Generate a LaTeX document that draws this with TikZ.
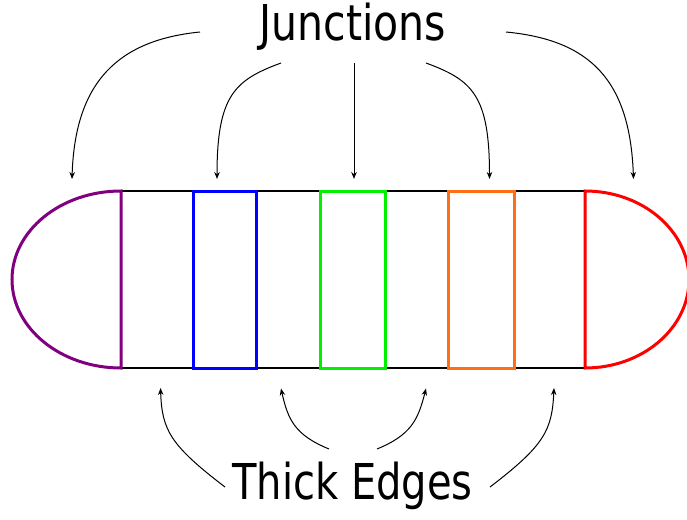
\documentclass[tikz,border=0pt]{standalone}
\usepackage{fontspec}
\setmainfont{DejaVu Sans}
\usetikzlibrary{arrows.meta}
\definecolor{cPurple}{RGB}{128,0,128}
\definecolor{cBlue}{RGB}{0,0,255}
\definecolor{cGreen}{RGB}{0,240,0}
\definecolor{cOrange}{RGB}{255,110,20}
\definecolor{cRed}{RGB}{255,0,0}
\begin{document}
\begin{tikzpicture}[x=1pt,y=-1pt,
  edgeline/.style={line width=1.8pt,black},
  junc/.style={line width=3pt},
  pointer/.style={line width=1pt,-{Stealth[length=7pt,width=5.5pt]}},
  label/.style={inner sep=0pt,anchor=base,font=\fontsize{49.4}{52}\selectfont}]
\useasboundingbox (0,0) rectangle (687,519);
\clip (0,0) rectangle (687,519);
% black edges
\draw[edgeline] (121,191) -- (585,191);
\draw[edgeline] (121,368) -- (585,368);
% end caps
\draw[junc,cPurple] (121,191) arc[start angle=-90,end angle=-270,x radius=109,y radius=88.5] -- cycle;
\draw[junc,cRed] (585,191) arc[start angle=-90,end angle=90,x radius=104,y radius=88.5] -- cycle;
% junction rectangles
\draw[junc,cBlue] (193,191) rectangle (256,368);
\draw[junc,cGreen] (320,191) rectangle (385,368);
\draw[junc,cOrange] (448,191) rectangle (514,368);
% labels
\node[label] (J) at (353,40.7) {\scalebox{0.83}[1]{Junctions}};
\node[label] (T) at (352.5,499.3) {\scalebox{0.81}[1]{Thick Edges}};
% pointer ends
\coordinate (j1s) at (200,32);  \coordinate (j1e) at (72,179);
\coordinate (j2s) at (281,63);  \coordinate (j2e) at (217,179);
\coordinate (j3s) at (354,63);  \coordinate (j3e) at (354,179);
\coordinate (j4s) at (426,63);  \coordinate (j4e) at (489.5,179);
\coordinate (j5s) at (506,32);  \coordinate (j5e) at (633.5,179);
\coordinate (t1s) at (225,487); \coordinate (t1e) at (160.5,388);
\coordinate (t2s) at (329,449); \coordinate (t2e) at (281,388.5);
\coordinate (t3s) at (377,449); \coordinate (t3e) at (426,388.5);
\coordinate (t4s) at (490,487); \coordinate (t4e) at (554,388);
% junction pointers
\draw[pointer] (j1s) .. controls (120,40) and (75,80) .. (j1e);
\draw[pointer] (j2s) .. controls (235,80) and (217,95) .. (j2e);
\draw[pointer] (j3s) -- (j3e);
\draw[pointer] (j4s) .. controls (472,80) and (489.5,95) .. (j4e);
\draw[pointer] (j5s) .. controls (590,40) and (630,80) .. (j5e);
% thick edge pointers
\draw[pointer] (t1s) .. controls (170,445) and (162,430) .. (t1e);
\draw[pointer] (t2s) .. controls (295,435) and (288,420) .. (t2e);
\draw[pointer] (t3s) .. controls (411,435) and (418,420) .. (t3e);
\draw[pointer] (t4s) .. controls (545,445) and (552,430) .. (t4e);
\end{tikzpicture}
\end{document}
